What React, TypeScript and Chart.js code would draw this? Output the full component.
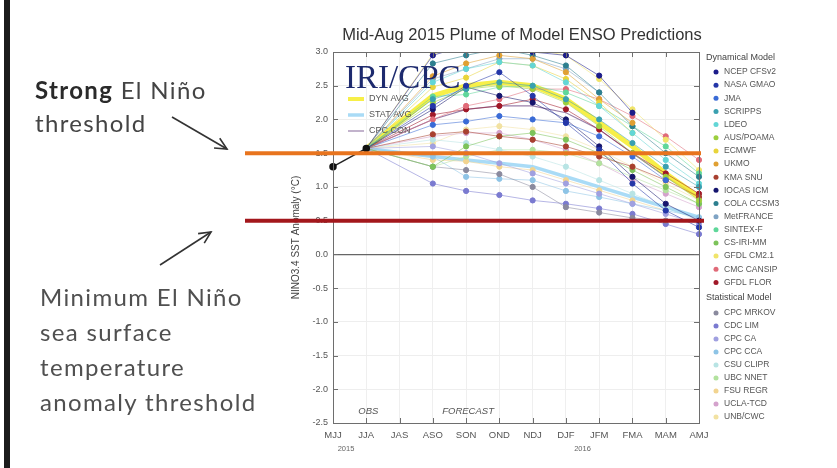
import React, { useEffect, useRef } from "react";
import { Chart, registerables } from "chart.js";
Chart.register(...registerables);

const seasons = ["MJJ", "JJA", "JAS", "ASO", "SON", "OND", "NDJ", "DJF", "JFM", "FMA", "MAM", "AMJ"];
const yTicks = [3.0, 2.5, 2.0, 1.5, 1.0, 0.5, 0.0, -0.5, -1.0, -1.5, -2.0, -2.5];
const observed = [1.3, 1.57];
const thresholds = [1.5, 0.5];

// Dynamical models, ASO .. AMJ
const ncepCfsv2 = [2.95, 3.1, 3.1, 3.0, 2.95, 2.65, 2.1, null, null];
const nasaGmao = [2.2, 2.5, 2.7, 2.35, 1.95, 1.55, 1.05, 0.65, 0.4];
const jma = [1.92, 1.97, 2.05, 2.0, 1.95, 1.75, 1.45, 1.1, null];
const scripps = [2.3, 2.45, 2.55, 2.5, 2.3, 2.0, 1.65, 1.3, 1.0];
const ldeo = [2.55, 2.75, 2.85, 2.8, 2.55, 2.2, 1.8, 1.4, 1.05];
const ausPoama = [2.25, 2.45, 2.5, 2.45, 2.25, 1.9, 1.5, 1.15, 0.8];
const ecmwf = [2.48, 2.62, 2.85, 2.8, 2.6, 2.25, 1.8, null, null];
const ukmo = [2.64, 2.83, 2.95, 2.9, 2.7, 2.3, 1.95, null, null];
const kmaSnu = [1.78, 1.82, 1.75, 1.7, 1.6, 1.45, 1.3, 1.1, 0.85];
const iocasIcm = [2.15, 2.48, 2.35, 2.25, 2.0, 1.6, 1.15, 0.75, 0.5];
const colaCcsm3 = [2.83, 2.95, 3.05, 2.95, 2.8, 2.4, 1.9, 1.5, 1.15];
const metFrance = [2.6, 2.75, 2.9, 2.9, 2.75, 2.4, null, null, null];
const sintexF = [2.34, 2.37, 2.48, 2.5, 2.4, 2.2, 1.9, 1.6, 1.2];
const csIriMm = [1.3, 1.6, 1.75, 1.8, 1.7, 1.5, 1.25, 1.0, 0.75];
const gfdlCm21 = [2.97, 3.1, 3.1, 3.05, 2.95, 2.6, 2.15, 1.7, 1.25];
const cmcCansip = [2.0, 2.2, 2.3, 2.45, 2.45, 2.3, 2.05, 1.75, 1.4];
const gfdlFlor = [2.07, 2.15, 2.2, 2.3, 2.15, 1.85, 1.5, 1.2, 0.9];

// Statistical models, ASO .. AMJ
const cpcMrkov = [1.3, 1.25, 1.19, 1.0, 0.7, 0.62, 0.54, 0.5, null];
const cdcLim = [1.05, 0.94, 0.88, 0.8, 0.75, 0.68, 0.6, 0.45, 0.3];
const cpcCa = [1.6, 1.5, 1.35, 1.2, 1.05, 0.9, 0.75, 0.6, 0.45];
const cpcCca = [1.45, 1.15, 1.12, 1.1, 0.94, 0.85, 0.75, 0.65, 0.55];
const csuClipr = [1.7, 1.65, 1.55, 1.45, 1.3, 1.1, 0.9, 0.7, 0.5];
const ubcNnet = [1.3, 1.45, 1.55, 1.55, 1.5, 1.35, 1.15, 0.95, 0.75];
const fsuRegr = [1.4, 1.38, 1.3, 1.25, 1.1, 0.95, 0.8, 0.65, null];
const uclaTcd = [1.75, 1.8, 1.8, 1.7, 1.55, 1.35, 1.1, 0.9, 0.7];
const unbCwc = [1.65, 1.85, 1.9, 1.85, 1.75, 1.55, 1.3, 1.05, 0.8];

// Averages
const dynAvg = [2.35, 2.5, 2.55, 2.5, 2.3, 1.95, 1.6, 1.2, 0.85];
const statAvg = [1.45, 1.4, 1.35, 1.3, 1.15, 1.0, 0.85, 0.7, 0.55];
const cpcCon = [2.0, 2.15, 2.2, 2.2, 2.1, 1.85, 1.5, 1.15, 0.85];

const dynNames = ["NCEP CFSv2", "NASA GMAO", "JMA", "SCRIPPS", "LDEO", "AUS/POAMA", "ECMWF", "UKMO", "KMA SNU", "IOCAS ICM", "COLA CCSM3", "MetFRANCE", "SINTEX-F", "CS-IRI-MM", "GFDL CM2.1", "CMC CANSIP", "GFDL FLOR"];
const dynColors = ["#1c1c8a", "#2436a8", "#3a6bd6", "#3aa0b0", "#63d6d6", "#9ccf3e", "#e8d43a", "#e0a033", "#a84030", "#15156e", "#2d7f8f", "#7fa3c4", "#5fd79a", "#7cc35a", "#f0e46a", "#e06a78", "#a01828"];
const dynValues = [ncepCfsv2, nasaGmao, jma, scripps, ldeo, ausPoama, ecmwf, ukmo, kmaSnu, iocasIcm, colaCcsm3, metFrance, sintexF, csIriMm, gfdlCm21, cmcCansip, gfdlFlor];

const statNames = ["CPC MRKOV", "CDC LIM", "CPC CA", "CPC CCA", "CSU CLIPR", "UBC NNET", "FSU REGR", "UCLA-TCD", "UNB/CWC"];
const statColors = ["#8a8a9e", "#7a7ad0", "#a0a0e0", "#8ec4e6", "#b8e4e4", "#b2e29e", "#f2d490", "#d4a2cc", "#f2e2a2"];
const statValues = [cpcMrkov, cdcLim, cpcCa, cpcCca, csuClipr, ubcNnet, fsuRegr, uclaTcd, unbCwc];

const avgNames = ["DYN AVG", "STAT AVG", "CPC CON"];
const avgColors = ["rgba(246,236,40,0.85)", "rgba(160,215,245,0.9)", "#9a80aa"];
const avgWidths = [5, 3.5, 1.2];
const avgValues = [dynAvg, statAvg, cpcCon];

const SANS = "'Liberation Sans', Arial, sans-serif";

function rgba(hex: string, a: number) {
  const n = parseInt(hex.slice(1), 16);
  return `rgba(${(n >> 16) & 255},${(n >> 8) & 255},${n & 255},${a})`;
}

function forecastSeries(vals: (number | null)[]) {
  return [null, observed[observed.length - 1], null, ...vals];
}

function modelDataset(label: string, color: string, vals: (number | null)[]) {
  return {
    label,
    data: forecastSeries(vals),
    borderColor: rgba(color, 0.55),
    backgroundColor: color,
    pointBackgroundColor: color,
    pointBorderColor: color,
    pointRadius: seasons.map((_, i) => (i < 3 ? 0 : 2.6)),
    pointHoverRadius: 0,
    borderWidth: 1,
    spanGaps: true,
    tension: 0,
    order: 1,
    segment: {
      borderColor: (c: any) => (c.p0DataIndex === 1 ? "rgba(35,35,35,0.7)" : undefined),
    },
  };
}

const overlayPlugin = {
  id: "overlay",
  afterDraw(chart: any) {
    const { ctx, chartArea: a, scales } = chart;
    const x = scales.x;
    const y = scales.y;
    ctx.save();
    // frame
    ctx.strokeStyle = "#6e6e6e";
    ctx.lineWidth = 1;
    ctx.strokeRect(Math.round(a.left) + 0.5, Math.round(a.top) + 0.5, a.right - a.left, a.bottom - a.top);
    ctx.beginPath();
    seasons.forEach((_, i) => {
      const px = Math.round(x.getPixelForValue(i)) + 0.5;
      ctx.moveTo(px, a.bottom);
      ctx.lineTo(px, a.bottom - 5);
      ctx.moveTo(px, a.top);
      ctx.lineTo(px, a.top + 5);
    });
    yTicks.forEach((v) => {
      const py = Math.round(y.getPixelForValue(v)) + 0.5;
      ctx.moveTo(a.left, py);
      ctx.lineTo(a.left + 5, py);
      ctx.moveTo(a.right, py);
      ctx.lineTo(a.right - 5, py);
    });
    ctx.stroke();

    // title
    ctx.fillStyle = "#333";
    ctx.font = `16.5px ${SANS}`;
    ctx.textAlign = "center";
    ctx.textBaseline = "middle";
    ctx.fillText("Mid-Aug 2015 Plume of Model ENSO Predictions", 522, 35);

    // IRI/CPC
    ctx.fillStyle = "#1d2a6e";
    ctx.font = `33px 'Liberation Serif', 'Times New Roman', serif`;
    ctx.textAlign = "left";
    ctx.textBaseline = "alphabetic";
    ctx.fillText("IRI/CPC", a.left + 12, 88);

    // inner legend of averages
    const innerY = [99, 115, 131];
    ctx.font = `9px ${SANS}`;
    ctx.textBaseline = "middle";
    avgNames.forEach((n, i) => {
      ctx.strokeStyle = avgColors[i];
      ctx.lineWidth = Math.min(avgWidths[i], 4);
      ctx.beginPath();
      ctx.moveTo(a.left + 15, innerY[i]);
      ctx.lineTo(a.left + 31, innerY[i]);
      ctx.stroke();
      ctx.fillStyle = "#555";
      ctx.fillText(n, a.left + 36, innerY[i]);
    });

    // OBS / FORECAST
    ctx.font = `italic 9.5px ${SANS}`;
    ctx.fillStyle = "#555";
    ctx.textAlign = "center";
    ctx.fillText("OBS", x.getPixelForValue(1) + 2, 411);
    ctx.fillText("FORECAST", x.getPixelForValue(4) + 2, 411);

    // years
    ctx.font = `7.5px ${SANS}`;
    ctx.fillStyle = "#666";
    ctx.fillText("2015", x.getPixelForValue(0) + 13, 449);
    ctx.fillText("2016", (x.getPixelForValue(7) + x.getPixelForValue(8)) / 2, 449);

    // right legend
    ctx.textAlign = "left";
    ctx.textBaseline = "middle";
    ctx.font = `9px ${SANS}`;
    ctx.fillStyle = "#444";
    ctx.fillText("Dynamical Model", 706, 58);
    ctx.font = `8.5px ${SANS}`;
    dynNames.forEach((n, i) => {
      const ly = 72 + i * 13.15;
      ctx.fillStyle = dynColors[i];
      ctx.beginPath();
      ctx.arc(716, ly, 2.5, 0, Math.PI * 2);
      ctx.fill();
      ctx.fillStyle = "#555";
      ctx.fillText(n, 724, ly);
    });
    ctx.font = `9px ${SANS}`;
    ctx.fillStyle = "#444";
    ctx.fillText("Statistical Model", 706, 298);
    ctx.font = `8.5px ${SANS}`;
    statNames.forEach((n, i) => {
      const ly = 313 + i * 13.0;
      ctx.fillStyle = statColors[i];
      ctx.beginPath();
      ctx.arc(716, ly, 2.5, 0, Math.PI * 2);
      ctx.fill();
      ctx.fillStyle = "#555";
      ctx.fillText(n, 724, ly);
    });

    // threshold lines across the slide
    const thColors = ["#e8741e", "#a3171c"];
    const thEnds = [a.right + 2, a.right + 5];
    thresholds.forEach((t, i) => {
      const py = y.getPixelForValue(t);
      ctx.strokeStyle = thColors[i];
      ctx.lineWidth = 4;
      ctx.beginPath();
      ctx.moveTo(245, py);
      ctx.lineTo(thEnds[i], py);
      ctx.stroke();
    });
    ctx.restore();
  },
};

function arrowHead(x0: number, y0: number, x1: number, y1: number, len: number, ang: number) {
  const t = Math.atan2(y1 - y0, x1 - x0);
  const p1 = [x1 - len * Math.cos(t - ang), y1 - len * Math.sin(t - ang)];
  const p2 = [x1 - len * Math.cos(t + ang), y1 - len * Math.sin(t + ang)];
  return `${p1[0]},${p1[1]} ${x1},${y1} ${p2[0]},${p2[1]}`;
}

export default function App() {
  const ref = useRef<HTMLCanvasElement | null>(null);
  useEffect(() => {
    if (!ref.current) return;
    const datasets: any[] = [];
    datasets.push({
      label: "Observed",
      data: [...observed, ...seasons.slice(observed.length).map(() => null)],
      borderColor: "#222",
      backgroundColor: "#111",
      pointBackgroundColor: "#111",
      pointBorderColor: "#111",
      pointRadius: 3,
      borderWidth: 1.5,
      order: 0,
    });
    dynNames.forEach((n, i) => datasets.push(modelDataset(n, dynColors[i], dynValues[i])));
    statNames.forEach((n, i) => datasets.push(modelDataset(n, statColors[i], statValues[i])));
    avgNames.forEach((n, i) =>
      datasets.push({
        label: n,
        data: forecastSeries(avgValues[i]),
        borderColor: avgColors[i],
        borderWidth: avgWidths[i],
        pointRadius: 0,
        spanGaps: true,
        tension: 0,
        order: 2,
        segment: { borderColor: (c: any) => (c.p0DataIndex === 1 ? "rgba(0,0,0,0)" : undefined) },
      })
    );

    const chart = new Chart(ref.current, {
      type: "line",
      data: { labels: seasons, datasets },
      options: {
        responsive: false,
        animation: false,
        events: [],
        layout: { padding: { left: 288, right: 138, top: 52, bottom: 0 } },
        plugins: { legend: { display: false }, tooltip: { enabled: false }, title: { display: false } },
        scales: {
          x: {
            type: "category",
            offset: false,
            afterFit: (s: any) => { s.height = 45; },
            grid: { color: "#efefef", drawTicks: false },
            border: { display: false },
            ticks: { color: "#555", font: { size: 9.5, family: SANS }, padding: 7, maxRotation: 0, autoSkip: false },
          },
          y: {
            min: -2.5,
            max: 3.0,
            afterFit: (s: any) => { s.width = 45; },
            afterBuildTicks: (s: any) => { s.ticks = yTicks.map((v) => ({ value: v })); },
            grid: {
              color: (c: any) => (c.tick && c.tick.value === 0 ? "#666" : "#eeeeee"),
              lineWidth: (c: any) => (c.tick && c.tick.value === 0 ? 1.2 : 1),
              drawTicks: false,
            },
            border: { display: false },
            ticks: {
              color: "#555",
              font: { size: 9, family: SANS },
              padding: 5,
              callback: (v: any) => Number(v).toFixed(1),
            },
            title: {
              display: true,
              text: "NINO3.4 SST Anomaly (°C)",
              color: "#444",
              font: { size: 10, family: SANS },
              padding: { top: 2, bottom: 2 },
            },
          },
        },
      },
      plugins: [overlayPlugin],
    });
    return () => chart.destroy();
  }, []);

  const textBase: React.CSSProperties = {
    position: "absolute",
    fontFamily: "Lato, 'Open Sans', sans-serif",
    fontSize: 24,
    lineHeight: "24px",
    letterSpacing: "1.35px",
    whiteSpace: "nowrap",
  };
  const minLines = ["Minimum El Niño", "sea surface", "temperature", "anomaly threshold"];

  return (
    <div style={{ position: "fixed", left: 0, top: 0, width: 837, height: 468, background: "#fff", overflow: "hidden" }}>
      <canvas ref={ref} width={837} height={468} style={{ position: "absolute", left: 0, top: 0 }} />
      <div style={{ position: "absolute", left: 4, top: 0, width: 6, height: 468, background: "#1b1b1b" }} />
      <div style={{ ...textBase, left: 35, top: 78, color: "#444" }}>
        <span style={{ fontWeight: 700, color: "#2a2a2a" }}>Strong</span> El Niño
      </div>
      <div style={{ ...textBase, left: 35, top: 111, color: "#444" }}>threshold</div>
      {minLines.map((t, i) => (
        <div key={t} style={{ ...textBase, left: 40, top: 285 + i * 35, color: "#505050" }}>{t}</div>
      ))}
      <svg width={837} height={468} style={{ position: "absolute", left: 0, top: 0, pointerEvents: "none" }}>
        <g stroke="#333" strokeWidth={1.6} fill="none">
          <line x1={172} y1={117} x2={227} y2={149} />
          <polyline points={arrowHead(172, 117, 227, 149, 13, 0.45)} />
          <line x1={160} y1={265} x2={211} y2={232} />
          <polyline points={arrowHead(160, 265, 211, 232, 13, 0.45)} />
        </g>
      </svg>
    </div>
  );
}
